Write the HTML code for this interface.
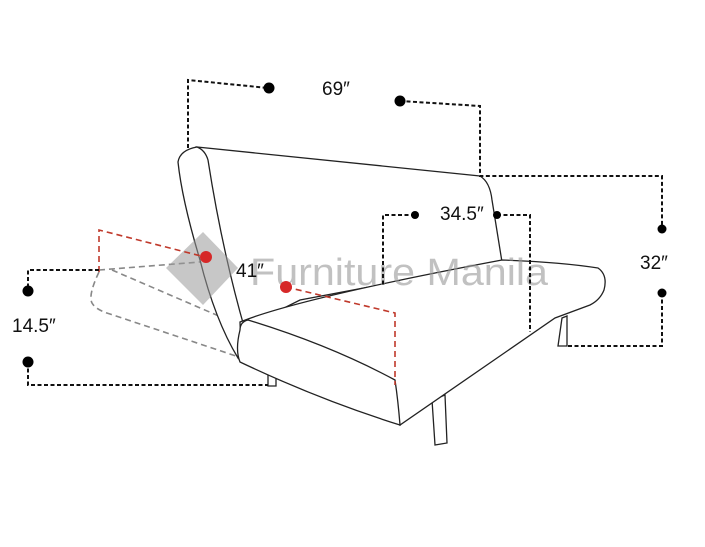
<!DOCTYPE html>
<html><head><style>html,body{margin:0;padding:0;background:#fff}svg{display:block}</style></head>
<body>
<svg width="705" height="547" viewBox="0 0 705 547" xmlns="http://www.w3.org/2000/svg" font-family="Liberation Sans, sans-serif">
<rect width="705" height="547" fill="#fff"/>

<!-- gray dashed folded arm -->
<g fill="none" stroke="#888" stroke-width="1.6" stroke-dasharray="6,4">
<path d="M99,270 L200,262"/>
<path d="M112,270 L242,326"/>
<path d="M99,272 Q88,295 92,303 Q96,310 110,314 L236,356"/>
</g>

<!-- sofa -->
<g fill="#fff" stroke="#222" stroke-width="1.3">
<path d="M562,318 L558,346 L567,346 L567,316 Z"/>
<path d="M432,400 L435,445 L447,443 L445,395 Z"/>
<path d="M268,372 L268,386 L276,386 L276,370 Z"/>
<path d="M197,147 Q330,160 480,176 Q490,182 492,200 L502,262 L300,300 L248,326 L240,330 Q215,280 200,150 Z"/>
<path d="M197,147 Q180,150 178,162 Q182,200 200,260 Q215,320 238,358 L245,330 Q222,250 208,160 Q205,150 197,147 Z"/>
<path d="M240,322 Q300,298 502,260 Q560,262 598,268 Q608,275 604,290 Q600,300 590,305 L555,318 L400,425 Q395,400 395,385 Q320,360 250,345 Q240,340 240,322 Z"/>
<path d="M240,330 Q240,322 248,320 Q330,345 395,380 Q398,400 400,425 Q320,400 240,362 Q235,350 240,330 Z"/>
</g>

<!-- watermark -->
<g fill="#999" opacity="0.55">
<polygon points="203,232 238,268 203,305 166,268"/>
</g>
<text x="250" y="285" font-size="38" fill="#999" opacity="0.6" textLength="298" lengthAdjust="spacingAndGlyphs">Furniture Manila</text>

<!-- red dashed -->
<g fill="none" stroke="#c0392b" stroke-width="1.6" stroke-dasharray="6,4">
<path d="M99,272 L99,230 L205,257"/>
<path d="M286,287 L395,313 L395,385"/>
</g>
<circle cx="206" cy="257" r="6" fill="#d62828"/>
<circle cx="286" cy="287" r="6" fill="#d62828"/>

<!-- black dashed dims -->
<g fill="none" stroke="#111" stroke-width="2" stroke-dasharray="4,2.5">
<path d="M188,148 L188,80 L268,88"/>
<path d="M400,101 L480,106 L480,176 L662,176 L662,229"/>
<path d="M662,293 L662,346 L566,346"/>
<path d="M415,215 L383,215 L383,285"/>
<path d="M497,215 L530,215 L530,332"/>
<path d="M99,270 L28,270 L28,291"/>
<path d="M28,362 L28,385 L268,385"/>
</g>
<g fill="#000">
<circle cx="269" cy="88" r="5.5"/>
<circle cx="400" cy="101" r="5.5"/>
<circle cx="662" cy="229" r="4.5"/>
<circle cx="662" cy="293" r="4.5"/>
<circle cx="415" cy="215" r="4"/>
<circle cx="497" cy="215" r="4"/>
<circle cx="28" cy="291" r="5.5"/>
<circle cx="28" cy="362" r="5.5"/>
</g>
<g font-size="19" fill="#111">
<text x="322" y="95">69″</text>
<text x="440" y="220">34.5″</text>
<text x="640" y="269">32″</text>
<text x="12" y="332">14.5″</text>
<text x="236" y="277">41″</text>
</g>
</svg>
</body></html>
